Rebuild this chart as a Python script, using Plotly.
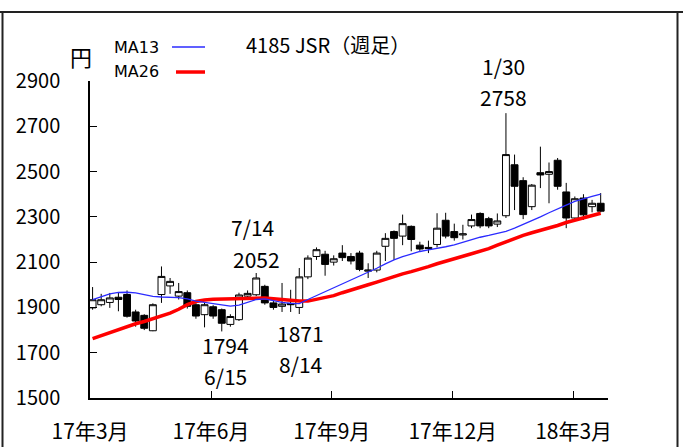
import plotly.graph_objects as go

# ---- data (weekly OHLC) ----
open_ = [1898, 1912, 1922, 1945, 1957, 1880, 1865, 1797, 1957, 1995,
         1950, 1965, 1912, 1868, 1903, 1890, 1825, 1846, 1950, 1956,
         1993, 1920, 1905, 1918, 1900, 2035, 2125, 2135, 2100, 2140,
         2125, 2140, 2060, 2065, 2170, 2235, 2215, 2258, 2175, 2165,
         2178, 2285, 2235, 2220, 2260, 2315, 2292, 2268, 2305, 2530,
         2460, 2345, 2495, 2488, 2550, 2410, 2295, 2383, 2345, 2360]
high = [1990, 1960, 1964, 1964, 1975, 1890, 1870, 1918, 2081, 2030,
        2008, 1975, 1925, 1920, 1910, 1895, 1870, 1965, 1975, 2052,
        2000, 1935, 2008, 1978, 2074, 2130, 2165, 2150, 2130, 2175,
        2140, 2150, 2095, 2150, 2228, 2240, 2310, 2262, 2190, 2195,
        2316, 2318, 2270, 2265, 2310, 2320, 2300, 2315, 2758, 2575,
        2475, 2445, 2610, 2540, 2560, 2450, 2390, 2400, 2375, 2405]
low = [1890, 1905, 1898, 1883, 1855, 1815, 1800, 1795, 1920, 1960,
       1935, 1895, 1850, 1812, 1850, 1794, 1815, 1840, 1935, 1950,
       1912, 1890, 1880, 1880, 1871, 2025, 2110, 2040, 2085, 2105,
       2090, 2060, 2030, 2055, 2105, 2110, 2175, 2148, 2150, 2140,
       2165, 2205, 2195, 2200, 2250, 2250, 2250, 2255, 2295, 2330,
       2290, 2330, 2427, 2360, 2420, 2250, 2285, 2287, 2320, 2320]
close = [1934, 1934, 1942, 1935, 1861, 1840, 1808, 1912, 2037, 2015,
         1970, 1905, 1862, 1912, 1862, 1830, 1860, 1955, 1962, 2030,
         1920, 1900, 1915, 1912, 2035, 2118, 2155, 2090, 2115, 2120,
         2105, 2068, 2065, 2140, 2205, 2205, 2270, 2200, 2158, 2160,
         2250, 2215, 2208, 2225, 2288, 2260, 2260, 2282, 2575, 2435,
         2310, 2440, 2485, 2500, 2435, 2295, 2380, 2309, 2360, 2325]
ma13 = [1934, 1948, 1960, 1966, 1967, 1964, 1955, 1949, 1946, 1945,
        1943, 1938, 1928, 1922, 1916, 1912, 1906, 1910, 1922, 1935,
        1938, 1930, 1922, 1918, 1917, 1935, 1952, 1968, 1985, 2002,
        2020, 2036, 2055, 2073, 2092, 2110, 2124, 2137, 2147, 2154,
        2160, 2168, 2176, 2188, 2200, 2210, 2218, 2226, 2236, 2250,
        2266, 2283, 2300, 2318, 2336, 2352, 2368, 2380, 2390, 2400]
ma26 = [1762, 1775, 1790, 1805, 1815, 1828, 1838, 1850, 1862, 1875,
        1892, 1912, 1926, 1933, 1936, 1937, 1937, 1938, 1940, 1942,
        1942, 1938, 1934, 1930, 1928, 1928, 1935, 1942, 1952, 1965,
        1978, 1990, 2000, 2012, 2025, 2037, 2048, 2058, 2068, 2080,
        2093, 2105, 2115, 2126, 2137, 2148, 2160, 2175, 2190, 2205,
        2218, 2230, 2240, 2250, 2262, 2275, 2285, 2295, 2305, 2316]

tick_pos = [-0.29, 13.75, 27.78, 41.82, 55.86]
tick_text = ["17年3月", "17年6月", "17年9月", "17年12月", "18年3月"]
y_ticks = [1500, 1700, 1900, 2100, 2300, 2500, 2700, 2900]
Y_MIN, Y_MAX = 1500, 2900

# annotation values: (x index, price level, text)
notes = [(47.7, 2966, "1/30"), (47.7, 2829, "2758"),
         (18.6, 2256, "7/14"), (19.0, 2115, "2052"),
         (15.4, 1732, "1794"), (15.4, 1599, "6/15"),
         (24.1, 1789, "1871"), (24.1, 1652, "8/14")]

x = list(range(len(open_)))

NUMFONT = "Liberation Sans Narrow, Arial Narrow, Noto Sans CJK JP, sans-serif"

fig = go.Figure()
fig.add_trace(go.Scatter(x=x, y=ma26, mode="lines",
                         line=dict(color="#ff0000", width=3.5), showlegend=False))
fig.add_trace(go.Scatter(x=x, y=ma13, mode="lines",
                         line=dict(color="#2b2bff", width=1.3), showlegend=False))
fig.add_trace(go.Candlestick(
    x=x, open=open_, high=high, low=low, close=close,
    increasing=dict(line=dict(color="black", width=1), fillcolor="white"),
    decreasing=dict(line=dict(color="black", width=1), fillcolor="black"),
    whiskerwidth=0, showlegend=False))

# pixel helpers for frame / legend placement
PW, PH, L, B = 518.0, 317.5, 90.0, 48.5
def px(xp):
    return (xp - L) / PW
def py(yp):
    return (447 - B - yp) / PH

shapes = [
    dict(type="line", xref="paper", yref="paper", x0=px(0), x1=px(683),
         y0=py(12), y1=py(12), line=dict(color="#222", width=2)),
    dict(type="line", xref="paper", yref="paper", x0=px(2.5), x1=px(2.5),
         y0=py(12), y1=py(460), line=dict(color="#222", width=2)),
    dict(type="line", xref="paper", yref="paper", x0=px(677.5), x1=px(677.5),
         y0=py(12), y1=py(460), line=dict(color="#222", width=2)),
    dict(type="line", xref="paper", yref="paper", x0=px(172), x1=px(205),
         y0=py(47), y1=py(47), line=dict(color="#2b2bff", width=1.5)),
    dict(type="line", xref="paper", yref="paper", x0=px(176), x1=px(205),
         y0=py(72), y1=py(72), line=dict(color="#ff0000", width=3.5)),
]

ann = []
for xi, yi, t in notes:
    ann.append(dict(x=xi, y=(yi - Y_MIN) / (Y_MAX - Y_MIN), xref="x", yref="paper",
                    text=t, showarrow=False, xanchor="center", yanchor="middle",
                    font=dict(family=NUMFONT, size=21, color="black")))
ann += [
    dict(x=px(81), y=py(56), xref="paper", yref="paper", text="円", showarrow=False,
         xanchor="center", yanchor="middle",
         font=dict(family="Noto Sans CJK JP", size=22, color="black")),
    dict(x=px(112), y=py(47), xref="paper", yref="paper", text="MA13", showarrow=False,
         xanchor="left", yanchor="middle",
         font=dict(family="DejaVu Sans", size=16, color="black")),
    dict(x=px(112), y=py(71), xref="paper", yref="paper", text="MA26", showarrow=False,
         xanchor="left", yanchor="middle",
         font=dict(family="DejaVu Sans", size=16, color="black")),
    dict(x=px(244), y=py(44), xref="paper", yref="paper", text="4185 JSR（週足）",
         showarrow=False, xanchor="left", yanchor="middle",
         font=dict(family=NUMFONT, size=20, color="black")),
]

fig.update_layout(
    width=683, height=447,
    margin=dict(l=L, r=683 - L - PW, t=447 - B - PH, b=B, autoexpand=False),
    paper_bgcolor="white", plot_bgcolor="white",
    shapes=shapes, annotations=ann, showlegend=False,
    boxgap=0.2, boxgroupgap=0,
    xaxis=dict(range=[-0.3, 59.85], tickmode="array", tickvals=tick_pos,
               ticktext=tick_text, ticks="inside", ticklen=7, tickcolor="black",
               showgrid=False, zeroline=False, showline=True, linecolor="black",
               linewidth=1.5, rangeslider=dict(visible=False), ticklabelstandoff=14,
               tickfont=dict(family=NUMFONT, size=21, color="black")),
    yaxis=dict(range=[Y_MIN, Y_MAX], tickmode="array", tickvals=y_ticks,
               ticks="inside", ticklen=7, tickcolor="black", showgrid=False,
               zeroline=False, showline=True, linecolor="black", linewidth=1.5,
               ticklabelstandoff=24,
               tickfont=dict(family=NUMFONT, size=20, color="black")),
)

fig.write_html("out.html", config={"displayModeBar": False},
               post_script="document.body.style.margin='0';"
                           "document.body.style.overflow='hidden';")
